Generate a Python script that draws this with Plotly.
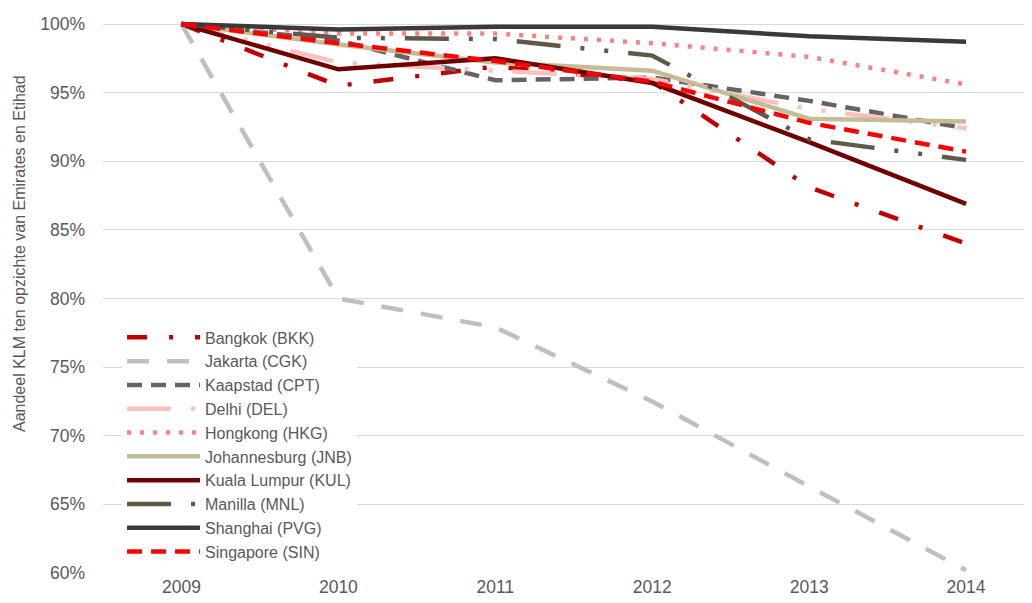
import plotly.graph_objects as go

years = ["2009", "2010", "2011", "2012", "2013", "2014"]

names = ["Bangkok (BKK)", "Jakarta (CGK)", "Kaapstad (CPT)", "Delhi (DEL)",
         "Hongkong (HKG)", "Johannesburg (JNB)", "Kuala Lumpur (KUL)",
         "Manilla (MNL)", "Shanghai (PVG)", "Singapore (SIN)"]

bkk = [1.000, 0.955, 0.969, 0.958, 0.881, 0.840]
cgk = [1.000, 0.800, 0.779, 0.725, 0.663, 0.602]
cpt = [1.000, 0.988, 0.959, 0.961, 0.944, 0.924]
dele = [1.000, 0.972, 0.966, 0.960, 0.938, 0.924]
hkg = [1.000, 0.993, 0.993, 0.986, 0.976, 0.956]
jnb = [1.000, 0.985, 0.972, 0.966, 0.931, 0.929]
kul = [1.000, 0.967, 0.975, 0.957, 0.914, 0.869]
mnl = [1.000, 0.990, 0.989, 0.977, 0.916, 0.901]
pvg = [1.000, 0.996, 0.998, 0.998, 0.991, 0.987]
sin = [1.000, 0.986, 0.973, 0.958, 0.928, 0.907]

series = [bkk, cgk, cpt, dele, hkg, jnb, kul, mnl, pvg, sin]

colors = ["#C00000", "#BFBFBF", "#646464", "#FFBFBF", "#FF8080",
          "#C4BC96", "#700000", "#605848", "#3A3A3A", "#FF0000"]
dashes = ["20px,22px,4px,22px", "22px,18px", "15px,9px",
          "44px,20px,4px,20px,4px,20px", "4px,9px", "solid", "solid",
          "44px,20px,4px,20px,4px,20px", "solid", "15px,9px"]

fig = go.Figure()
for name, vals, col, dsh in zip(names, series, colors, dashes):
    fig.add_trace(go.Scatter(
        x=list(range(len(years))), y=vals, name=name, mode="lines",
        line=dict(color=col, width=4.5, dash=dsh),
    ))

font_family = "Liberation Sans, Arial, sans-serif"
txt = "#595959"

# page body has an 8px margin, so the figure is drawn 8px smaller
fig.update_layout(
    width=1024, height=595,
    margin=dict(l=95, r=0, t=10, b=29),
    paper_bgcolor="white", plot_bgcolor="white",
    font=dict(family=font_family, color=txt, size=17),
    showlegend=True,
    legend=dict(
        x=0.0205, y=0.456, xanchor="left", yanchor="top",
        bgcolor="white", font=dict(size=16, color=txt),
        itemwidth=73, tracegroupgap=0,
    ),
    xaxis=dict(
        range=[-0.5, 5.42], tickvals=list(range(len(years))), ticktext=years,
        showgrid=False, zeroline=False, showline=False, ticks="",
        tickfont=dict(size=17.5, color=txt),
    ),
    yaxis=dict(
        range=[0.59927, 1.00437], tickvals=[0.60, 0.65, 0.70, 0.75, 0.80, 0.85, 0.90, 0.95, 1.00],
        tickformat=".0%", showgrid=True, gridcolor="#D9D9D9", gridwidth=1.3,
        zeroline=False, showline=False, ticks="", ticklabelstandoff=17,
        tickfont=dict(size=17.5, color=txt),
    ),
    annotations=[dict(
        text="Aandeel KLM ten opzichte van Emirates en Etihad",
        xref="paper", yref="paper", x=(11 - 95) / 929, y=(566 - 246) / 556,
        xanchor="center", yanchor="middle", textangle=-90, showarrow=False,
        font=dict(size=16, color=txt, family=font_family),
    )],
)

fig.write_html("out.html")
